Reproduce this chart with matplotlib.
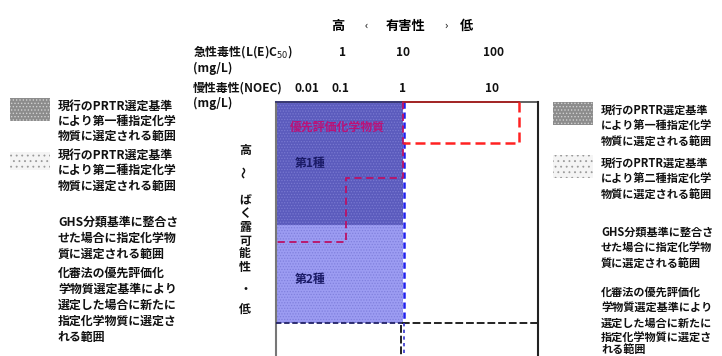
import matplotlib
matplotlib.use('Agg')
import matplotlib.pyplot as plt
from matplotlib.patches import Rectangle

plt.rcParams['font.family'] = ['Noto Sans CJK JP', 'DejaVu Sans']
plt.rcParams['hatch.linewidth'] = 0.6

# header scale (hazard)
acute_ticks = ['1', '10', '100']
acute_tick_x = [342, 403, 493]
chronic_ticks = ['0.01', '0.1', '1', '10']
chronic_tick_x = [307, 340, 402, 492]

# regions of the diagram (left, top, right, bottom)
frame = (276, 102, 538, 370)
class1 = (276, 102, 403, 225)
class2 = (276, 225, 403, 323)
ghs_box = (403, 102, 519, 143)
priority_path = [(403, 102), (403, 178), (346, 178), (346, 242), (276, 242)]
ghs_lower = [(538, 323), (401, 323), (401, 370)]

legend_texts = [
    ['現行のPRTR選定基準', 'により第一種指定化学', '物質に選定される範囲'],
    ['現行のPRTR選定基準', 'により第二種指定化学', '物質に選定される範囲'],
    ['GHS分類基準に整合さ', 'せた場合に指定化学物', '質に選定される範囲'],
    ['化審法の優先評価化', '学物質選定基準により', '選定した場合に新たに', '指定化学物質に選定さ', 'れる範囲'],
]
left_line_y = [[106, 121, 136], [155, 170, 186], [222, 238, 254], [273, 289, 305, 321, 337]]
right_line_y = [[110, 126, 142], [163, 179, 195], [232, 248, 264], [292, 308, 323, 338, 350]]

vert_label = ['高', '～', 'ば', 'く', '露', '可', '能', '性', '・', '低']
vert_y = [150, 172, 200, 214, 228, 241, 254, 267, 290, 309]

fig = plt.figure(figsize=(7.22, 3.56), dpi=100)
ax = fig.add_axes([0, 0, 1, 1])
ax.set_xlim(0, 722)
ax.set_ylim(356, 0)
ax.axis('off')

fs = 8.6
kw = dict(fontsize=fs, fontweight='bold', color='#111111', va='center')


def rect(r, **k):
    l, t, rr, b = r
    return Rectangle((l, t), rr - l, b - t, **k)


# frame
ax.plot([frame[0], frame[0]], [frame[1], frame[3]], color='#777777', lw=1.5)
ax.plot([frame[0], frame[2]], [frame[1], frame[1]], color='#555555', lw=1.3)
ax.plot([frame[2], frame[2]], [frame[1], frame[3]], color='#222222', lw=1.5)

# blue areas
ax.add_patch(rect(class1, facecolor='#5b5bbd', edgecolor='none', lw=0))
ax.add_patch(rect(class1, facecolor='none', edgecolor='#7878d0', hatch='......', lw=0))
ax.add_patch(rect(class2, facecolor='#9c9cf2', edgecolor='none'))
ax.add_patch(rect(class2, facecolor='none', edgecolor='#8080dd', hatch='......', lw=0))
ax.plot([class1[0], class1[2]], [class1[1], class1[1]], color='#333377', lw=1.2)
ax.plot([class2[0], class2[2]], [class2[3], class2[3]], color='#222266', lw=1.3, ls=(0, (3, 1.5)))
ax.plot([class1[2] + 1, class1[2] + 1], [class1[1], class2[3]], color='#2020ee', lw=1.8, ls=(0, (2.5, 1.5)))

# GHS area (red dashed)
l, t, r, b = ghs_box
ax.plot([l, r], [t, t], color='#aa2222', lw=1.3)
ax.plot([r, r, l], [t, b, b], color='#ff2222', lw=1.8, ls=(0, (4, 2)))

# priority evaluation substances (magenta dashed)
px = [p[0] for p in priority_path]
py = [p[1] for p in priority_path]
ax.plot(px, py, color='#bb1166', lw=1.3, ls=(0, (4, 2.5)))

# lower black dashed
gx = [p[0] for p in ghs_lower]
gy = [p[1] for p in ghs_lower]
ax.plot(gx, gy, color='#222222', lw=1.4, ls=(0, (4, 1.5)))
ax.plot([404, 404], [323, 356], color='#3333cc', lw=1.2, ls=(0, (2, 2)))

# region labels
ax.text(290, 127, '優先評価化学物質', fontsize=fs, fontweight='bold', color='#bb1177', va='center')
ax.text(295, 163, '第1種', fontsize=fs, fontweight='bold', color='#1a1a66', va='center')
ax.text(295, 279, '第2種', fontsize=fs, fontweight='bold', color='#1a1a66', va='center')

# header
hy = 26
ax.text(338, hy, '高', ha='center', fontsize=9.5, fontweight='bold', va='center')
ax.text(366, hy, '‹', ha='center', fontsize=8, va='center')
ax.text(406, hy, '有害性', ha='center', fontsize=9.5, fontweight='bold', va='center')
ax.text(446, hy, '›', ha='center', fontsize=8, va='center')
ax.text(467, hy, '低', ha='center', fontsize=9.5, fontweight='bold', va='center')

ax.text(193, 52, '急性毒性(L(E)C$_{50}$)', **kw)
ax.text(193, 68, '(mg/L)', **kw)
ax.text(193, 88, '慢性毒性(NOEC)', **kw)
ax.text(193, 103, '(mg/L)', **kw)
for lab, x in zip(acute_ticks, acute_tick_x):
    ax.text(x, 52, lab, ha='center', **kw)
for lab, x in zip(chronic_ticks, chronic_tick_x):
    ax.text(x, 88, lab, ha='center', **kw)

# vertical axis label
for ch, y in zip(vert_label, vert_y):
    ax.text(245, y, ch, ha='center', rotation=90 if ch == '～' else 0, **kw)

# legends on both sides
for bx, tx, ys, boxy, size in [(10, 58, left_line_y, [(98, 121), (152, 170)], fs),
                               (553, 601, right_line_y, [(102, 125), (155, 178)], 8.0)]:
    y0, y1 = boxy[0]
    ax.add_patch(Rectangle((bx, y0), 40, y1 - y0, facecolor='#8c8c8c', edgecolor='#d0d0d0',
                           hatch='.....', lw=0))
    y0, y1 = boxy[1]
    ax.add_patch(Rectangle((bx, y0), 40, y1 - y0, facecolor='#f4f4f4', edgecolor='#9a9a9a',
                           hatch='...', lw=0))
    for lines, yl in zip(legend_texts, ys):
        for s, y in zip(lines, yl):
            ax.text(tx, y, s, ha='left', fontsize=size, fontweight='bold', color='#111111', va='center')

fig.savefig('out.png', dpi=100)
